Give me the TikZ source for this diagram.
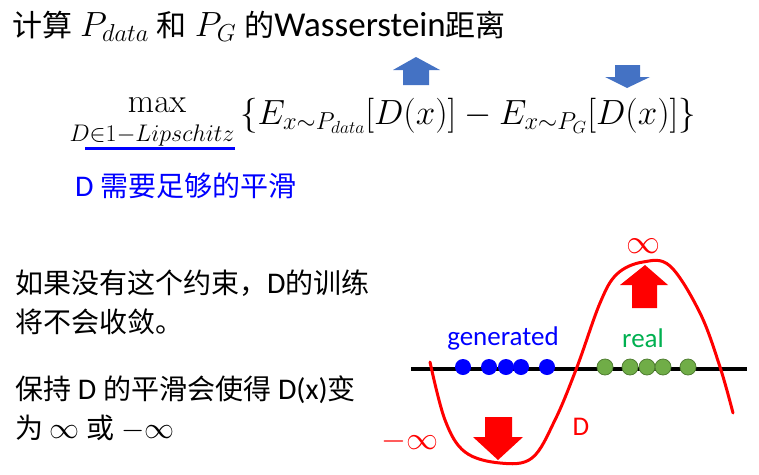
\RequirePackage{fix-cm}
\documentclass[tikz,border=0pt]{standalone}
\usepackage[no-math]{fontspec}
\setmainfont{Carlito}
\newfontfamily\cjkf{Noto Sans CJK SC}
\definecolor{myblue}{RGB}{0,0,255}
\definecolor{arrowblue}{RGB}{68,114,196}
\definecolor{myred}{RGB}{255,0,0}
\definecolor{mygreen}{RGB}{112,173,71}
\definecolor{mygreenb}{RGB}{80,126,50}
\definecolor{greentext}{RGB}{0,176,80}
\newcommand{\zh}[1]{{\cjkf\fontsize{28}{34}\selectfont #1}}
\newcommand{\zht}[1]{{\cjkf\fontsize{30}{36}\selectfont #1}}
\tikzset{
  txt/.style={inner sep=0pt, font=\fontsize{30}{36}\selectfont},
  gdot/.style={circle, fill=myblue, minimum size=16pt, inner sep=0pt},
  rdot/.style={circle, fill=mygreen, draw=mygreenb, line width=0.8pt, minimum size=16pt, inner sep=0pt},
  redarrow/.style={fill=myred},
  bluearrow/.style={fill=arrowblue}
}
\begin{document}
\begin{tikzpicture}[x=1pt,y=-1pt]
\useasboundingbox (0,0) rectangle (759,474);
% title
\node[txt, anchor=west, font=\fontsize{35}{40}\selectfont] (title) at (12,26)
  {\zht{计算} $P_{data}$ \zht{和} $P_G$ \zht{的}Wasserstein\zht{距离}};
% formula
\node[inner sep=0pt, font=\fontsize{34}{40}\selectfont] (max) at (157,105) {$\max$};
\node[inner sep=0pt, font=\fontsize{24}{28}\selectfont] (sub) at (152,135) {$D{\in}1{-}Lipschitz$};
\coordinate (ul1) at (85,148);
\coordinate (ul2) at (235,148);
\draw[myblue, line width=3pt] (ul1) -- (ul2);
\node[inner sep=0pt, anchor=west, font=\fontsize{35}{41}\selectfont] (expr) at (240,116)
  {$\{E_{x\sim P_{data}}[D(x)]-E_{x\sim P_G}[D(x)]\}$};
% blue arrows
\fill[bluearrow] (403,85) -- (403,70) -- (393,70) -- (416,57) -- (440,70) -- (429,70) -- (429,85) -- cycle;
\fill[bluearrow] (615,65) -- (615,77) -- (605,77) -- (627,88) -- (650,77) -- (640,77) -- (640,65) -- cycle;
% smooth note
\node[txt, anchor=west, text=myblue] (smooth) at (75,186) {D \zh{需要足够的平滑}};
% left text
\node[txt, anchor=west] (l1) at (15,283) {\zh{如果没有这个约束，}D\zh{的训练}};
\node[txt, anchor=west] (l2) at (15,322) {\zh{将不会收敛。}};
\node[txt, anchor=west] (l3) at (15,390) {\zh{保持} D \zh{的平滑会使得} D(x)\zh{变}};
\node[txt, anchor=west] (l4) at (15,428) {\zh{为} $\infty$ \zh{或} $-\infty$};
% axis
\coordinate (a1) at (411,369);
\coordinate (a2) at (747,369);
\draw[line width=4pt] (a1) -- (a2);
% dots
\foreach \x/\n in {463/g1,489/g2,506/g3,521/g4,547/g5}
  \node[gdot] (\n) at (\x,367) {};
\foreach \x/\n in {605/r1,630/r2,647/r3,663/r4,688/r5}
  \node[rdot] (\n) at (\x,367) {};
\node[inner sep=0pt, text=myblue, font=\fontsize{27}{32}\selectfont] (gen) at (503,338) {generated};
\node[inner sep=0pt, text=greentext, font=\fontsize{27}{32}\selectfont] (real) at (643,338) {real};
% curve
\draw[myred, line width=3pt, line cap=round] plot[smooth, tension=0.6] coordinates {
  (430,362) (445,420) (465,452) (500,463) (532,458) (555,420) (577,367)
  (600,303) (617,274) (643,262) (670,266) (700,313) (720,367) (733,413)};
% red arrows
\fill[redarrow] (632,308) -- (632,285) -- (620,285) -- (645,265) -- (668,285) -- (657,285) -- (657,308) -- cycle;
\fill[redarrow] (485,417) -- (485,437) -- (473,437) -- (498,460) -- (523,437) -- (512,437) -- (512,417) -- cycle;
% labels
\node[inner sep=0pt, text=myred, font=\fontsize{34}{40}\selectfont] (inf) at (643,246) {$\infty$};
\node[inner sep=0pt, text=myred, font=\fontsize{32}{38}\selectfont] (minf) at (410,441) {$-\infty$};
\node[inner sep=0pt, text=myred, font=\fontsize{27}{32}\selectfont] (dlab) at (581,427) {D};
\end{tikzpicture}
\end{document}
